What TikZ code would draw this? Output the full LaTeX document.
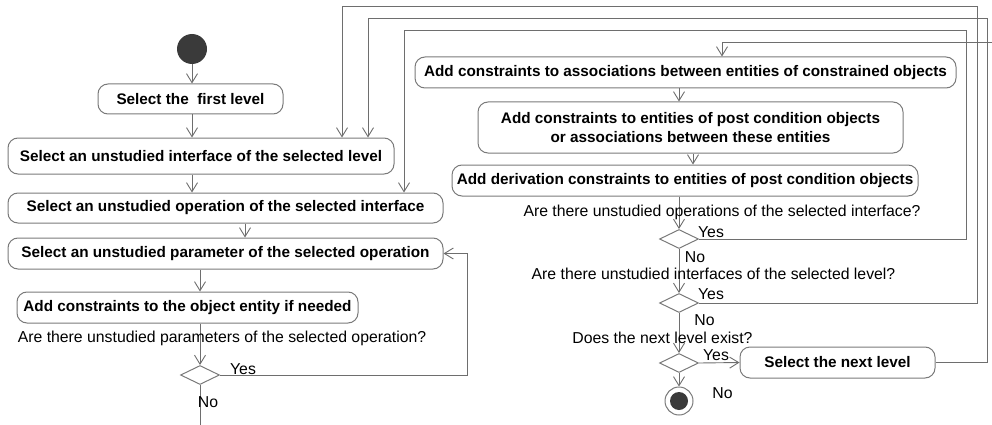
\documentclass[tikz,border=0pt]{standalone}
\usepackage{fontspec}
\setmainfont{Liberation Sans}
\usetikzlibrary{shapes.geometric, arrows.meta, positioning}
\definecolor{edgegray}{HTML}{6E6E6E}
\definecolor{boxgray}{HTML}{7A7A7A}
\definecolor{dotgray}{HTML}{3A3A3A}

\begin{document}
\begin{tikzpicture}[
    x=1pt, y=-1pt,
    actbox/.style={rectangle, rounded corners=10pt, draw=boxgray, line width=1pt, fill=white,
                   inner sep=0pt, align=center, font=\fontsize{15.3}{19}\selectfont\bfseries},
    choice/.style={diamond, draw=boxgray, line width=1pt, fill=white, inner sep=0pt,
                   minimum width=39pt, minimum height=19pt},
    arrow/.style={-{Straight Barb[length=9pt,width=11pt]}, draw=edgegray, line width=0.9pt},
    note/.style={inner sep=0pt, font=\fontsize{15.8}{18}\selectfont}
  ]
    \path[use as bounding box, clip] (0,0) rectangle (992,425);

    % left column
    \node[circle, fill=dotgray, minimum size=30pt, inner sep=0pt] (start) at (192,49) {};
    \node[actbox, minimum width=185pt, minimum height=30pt] (first)  at (190.5,99)   {Select the\ \ first level};
    \node[actbox, minimum width=386pt, minimum height=36pt] (iface)  at (201,156)    {Select an unstudied interface of the selected level};
    \node[actbox, minimum width=435pt, minimum height=30pt] (oper)   at (225.5,208)  {Select an unstudied operation of the selected interface};
    \node[actbox, minimum width=435pt, minimum height=31pt] (param)  at (225.5,253.5){Select an unstudied parameter of the selected operation};
    \node[actbox, minimum width=341pt, minimum height=31pt] (objent) at (187.5,307.5){Add constraints to the object entity if needed};
    \node[choice] (dparam) at (200,375) {};

    % right column
    \node[actbox, minimum width=541pt, minimum height=31pt] (assoc) at (685.5,72.5) {Add constraints to associations between entities of constrained objects};
    \node[actbox, minimum width=425pt, minimum height=51pt] (postc) at (690.5,127.5) {Add constraints to entities of post condition objects\\or associations between these entities};
    \node[actbox, minimum width=466pt, minimum height=31pt] (deriv) at (685,180.5) {Add derivation constraints to entities of post condition objects};
    \node[choice] (dops)  at (679,239) {};
    \node[choice] (difc)  at (679,303) {};
    \node[choice] (dnext) at (679,363) {};
    \node[actbox, minimum width=195pt, minimum height=31pt] (nextlvl) at (837.5,362.5) {Select the next level};
    \node[circle, draw=boxgray, line width=1pt, fill=white, minimum size=28pt, inner sep=0pt] (final) at (679,401) {};
    \node[circle, fill=dotgray, minimum size=18pt, inner sep=0pt] (finaldot) at (final) {};

    % free ends of the long return lines
    \coordinate (offbottom) at (200,440);
    \coordinate (offright)  at (1010,42);
    \coordinate (railops)   at (966,30);
    \coordinate (railifc)   at (977,6);
    \coordinate (railnext)  at (987,18);

    \draw[arrow] (start.south) -- (start.south |- first.north);
    \draw[arrow] ([xshift=1.5pt]first.south) -- ([xshift=-9pt]iface.north);
    \draw[arrow] ([xshift=-9pt]iface.south) -- ([xshift=-33.5pt]oper.north);
    \draw[arrow] ([xshift=19.5pt]oper.south) -- ([xshift=19.5pt]param.north);
    \draw[arrow] ([xshift=-25.5pt]param.south) -- ([xshift=12.5pt]objent.north);
    \draw[arrow] ([xshift=12.5pt]objent.south) -- (dparam.north);
    \draw[arrow] (dparam.east) -| ([xshift=24pt]param.east) -- (param.east);
    \draw[arrow] (dparam.south) -- (offbottom) -| (offright) -| ([xshift=36.5pt]assoc.north);

    \draw[arrow] ([xshift=-6.5pt]assoc.south) -- ([xshift=-11.5pt]postc.north);
    \draw[arrow] ([xshift=2.5pt]postc.south) -- ([xshift=8pt]deriv.north);
    \draw[arrow] ([xshift=-6pt]deriv.south) -- (dops.north);
    \draw[arrow] (dops.south) -- (difc.north);
    \draw[arrow] (difc.south) -- (dnext.north);
    \draw[arrow] (dnext.east) -- (nextlvl.west);
    \draw[arrow] (dnext.south) -- (final.north);
    \draw[arrow] (dops.east) -| (railops) -| ([xshift=178.5pt]oper.north);
    \draw[arrow] (difc.east) -| (railifc) -| ([xshift=141pt]iface.north);
    \draw[arrow] (nextlvl.east) -| (railnext) -| ([xshift=167pt]iface.north);

    % guards and questions
    \node[note] (qparam) at (222,338) {Are there unstudied parameters of the selected operation?};
    \node[note] (qops)   at (722,212) {Are there unstudied operations of the selected interface?};
    \node[note] (qifc)   at (713.5,274) {Are there unstudied interfaces of the selected level?};
    \node[note] (qnext)  at (662.5,338) {Does the next level exist?};
    \node[note] at (243,369)   {Yes};
    \node[note] at (208,402)   {No};
    \node[note] at (711,232)   {Yes};
    \node[note] at (695,257)   {No};
    \node[note] at (711,294)   {Yes};
    \node[note] at (704.5,320) {No};
    \node[note] at (716,355)   {Yes};
    \node[note] at (722.5,393) {No};
\end{tikzpicture}
\end{document}
